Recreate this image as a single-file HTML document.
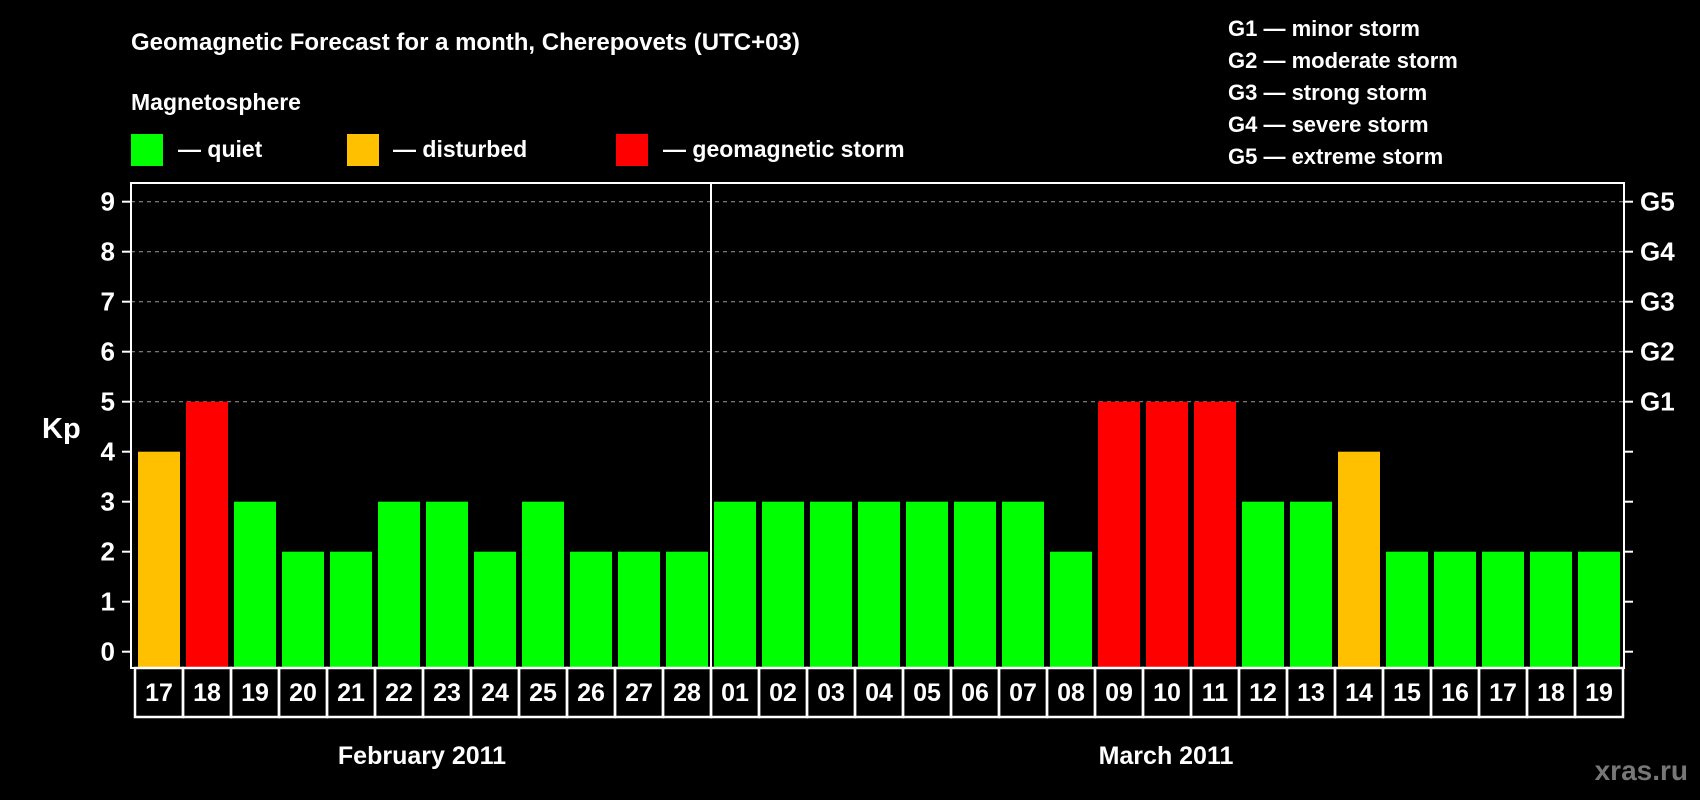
<!DOCTYPE html>
<html><head><meta charset="utf-8"><style>
html,body{margin:0;padding:0;background:#000;width:1700px;height:800px;overflow:hidden}
svg{display:block;font-family:"Liberation Sans",Arial,sans-serif;font-weight:bold}
</style></head><body>
<svg id="chart" width="1700" height="800" viewBox="0 0 1700 800">
<text x="131" y="50" fill="#fff" font-size="24">Geomagnetic Forecast for a month, Cherepovets (UTC+03)</text>
<text x="131" y="110" fill="#fff" font-size="23">Magnetosphere</text>
<g><rect x="131" y="134" width="32" height="32" fill="#00ff00"/><text x="178" y="157" fill="#fff" font-size="23">— quiet</text></g>
<g><rect x="347" y="134" width="32" height="32" fill="#ffc000"/><text x="393" y="157" fill="#fff" font-size="23">— disturbed</text></g>
<g><rect x="616" y="134" width="32" height="32" fill="#ff0000"/><text x="663" y="157" fill="#fff" font-size="23">— geomagnetic storm</text></g>
<g fill="#fff" font-size="22">
<text x="1228" y="36">G1 — minor storm</text>
<text x="1228" y="68">G2 — moderate storm</text>
<text x="1228" y="100">G3 — strong storm</text>
<text x="1228" y="132">G4 — severe storm</text>
<text x="1228" y="164">G5 — extreme storm</text>
</g>
<text x="42" y="438" fill="#fff" font-size="29">Kp</text>
<g id="grid"></g><g id="bars"></g><g id="axes"></g>
<text x="422" y="764" fill="#fff" font-size="25" text-anchor="middle">February 2011</text>
<text x="1166" y="764" fill="#fff" font-size="25" text-anchor="middle">March 2011</text>
<text x="1688" y="780" fill="#777" font-size="28" text-anchor="end">xras.ru</text>
</svg>
<script>
const days = ["17","18","19","20","21","22","23","24","25","26","27","28","01","02","03","04","05","06","07","08","09","10","11","12","13","14","15","16","17","18","19"];
const kpValues = [4,5,3,2,2,3,3,2,3,2,2,2,3,3,3,3,3,3,3,2,5,5,5,3,3,4,2,2,2,2,2];
const yTicks = [0,1,2,3,4,5,6,7,8,9];
const gLabels = ["G1","G2","G3","G4","G5"];
const gLevels = [5,6,7,8,9];
const monthSplitIndex = 12;

const NS="http://www.w3.org/2000/svg";
const L=131,R=1624,T=183,B=668,x0=135,step=48;
const y=v=>651.7-v*50;
const xs=i=>x0+i*step;
function mk(tag,attrs,parent){const e=document.createElementNS(NS,tag);for(const k in attrs)e.setAttribute(k,attrs[k]);parent.appendChild(e);return e;}
const grid=document.getElementById('grid'),bars=document.getElementById('bars'),axes=document.getElementById('axes');
gLevels.forEach(v=>{
  const l=mk('line',{x1:L,x2:R,y1:y(v),y2:y(v),stroke:'#888','stroke-width':1.2,'stroke-dasharray':'4,4'},grid);
  
  
});
kpValues.forEach((v,i)=>{
  const c=v>=5?'#ff0000':(v>=4?'#ffc000':'#00ff00');
  const r=mk('rect',{x:xs(i)+3,y:y(v),width:42,height:B-y(v),fill:c},bars);
  
  
});
const f=mk('rect',{x:L,y:T,width:R-L,height:B-T,fill:'none',stroke:'#fff','stroke-width':2},axes);


const d=mk('line',{x1:xs(monthSplitIndex),x2:xs(monthSplitIndex),y1:T,y2:B,stroke:'#fff','stroke-width':2},axes);


yTicks.forEach(v=>{
  mk('line',{x1:L-9,x2:L,y1:y(v),y2:y(v),stroke:'#fff','stroke-width':2},axes);
  mk('line',{x1:R,x2:R+9,y1:y(v),y2:y(v),stroke:'#fff','stroke-width':2},axes);
  const t=mk('text',{x:115,y:y(v)+9,fill:'#fff','font-size':26,'text-anchor':'end'},axes);
  t.textContent=yTicks[yTicks.indexOf(v)];
  
  
});
gLabels.forEach((g,i)=>{
  const t=mk('text',{x:1640,y:y(gLevels[i])+9,fill:'#fff','font-size':26},axes);
  t.textContent=g;
  
  
});
days.forEach((dd,i)=>{
  const c=mk('rect',{x:xs(i),y:B,width:step,height:49,fill:'none',stroke:'#fff','stroke-width':2.5},axes);
  
  
  const t=mk('text',{x:xs(i)+step/2,y:701,fill:'#fff','font-size':25,'text-anchor':'middle'},axes);
  t.textContent=dd;
  
  
});
</script>
</body></html>
